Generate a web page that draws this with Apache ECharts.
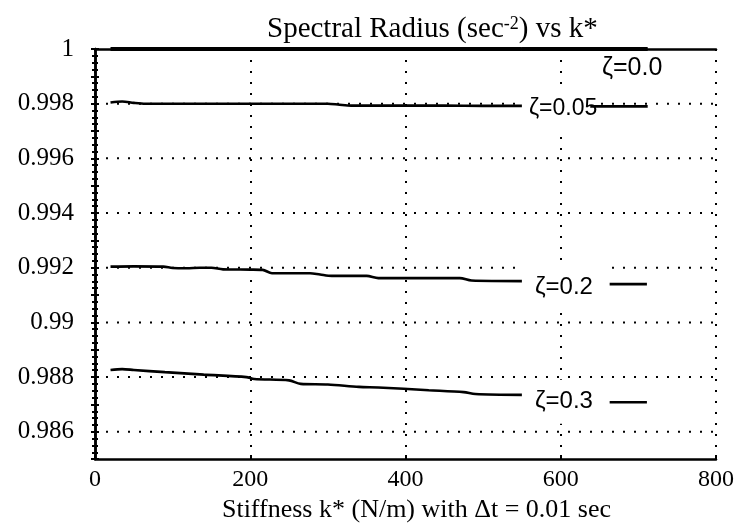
<!DOCTYPE html>
<html><head><meta charset="utf-8">
<script src="https://cdn.jsdelivr.net/npm/echarts@6/dist/echarts.min.js"></script>
<style>html,body{margin:0;padding:0;background:#fff}#c{width:737px;height:528px}</style>
</head><body><div id="c"></div>
<script>
// ---- data ----
const titleText = 'Spectral Radius (sec{sup|-2}) vs k*';
const xName = 'Stiffness k* (N/m) with Δt = 0.01 sec';
const xTicks = [0, 200, 400, 600, 800];
const yGridValues = [0.986, 0.988, 0.99, 0.992, 0.994, 0.996, 0.998];
const names = ['ζ=0.0', 'ζ=0.05', 'ζ=0.2', 'ζ=0.3'];

const k00 = [20, 550];
const v00 = [1.0, 1.0];

const k05 = [20, 35, 50, 65, 100, 150, 200, 250, 300, 315, 330, 400, 450, 500, 550];
const v05 = [0.99804, 0.99808, 0.99803, 0.998, 0.998, 0.998, 0.998, 0.998, 0.998, 0.99796, 0.99793, 0.99793, 0.99793, 0.99792, 0.99792];

const k20 = [20, 50, 88, 100, 118, 135, 150, 165, 200, 216, 228, 277, 290, 305, 350, 365, 470, 485, 550];
const v20 = [0.99204, 0.99205, 0.99204, 0.99199, 0.99198, 0.992, 0.992, 0.99194, 0.99193, 0.99192, 0.9918, 0.9918, 0.99175, 0.9917, 0.9917, 0.99162, 0.99162, 0.99153, 0.99151];

const k30 = [20, 35, 50, 90, 140, 195, 205, 250, 265, 300, 340, 365, 430, 475, 490, 550];
const v30 = [0.98826, 0.98829, 0.98826, 0.98818, 0.98809, 0.988, 0.98793, 0.98788, 0.98775, 0.98773, 0.98764, 0.98762, 0.98752, 0.98745, 0.98738, 0.98735];

const keyK = [[550, 712], [638, 712], [663, 711], [663, 711]];
const keyV = [1.0, 0.9979, 0.9914, 0.98708];

// ---- build ----
const zip = (a, b) => a.map((x, i) => [x, b[i]]);
const curves = [zip(k00, v00), zip(k05, v05), zip(k20, v20), zip(k30, v30)];

const serif = 'Liberation Serif';
const sans = 'Liberation Sans';
const gridStyle = {type: [2, 9], width: 2, color: '#000'};

const series = [];
yGridValues.forEach(v => {
  series.push({
    type: 'line', data: [[xTicks[0], v], [xTicks[xTicks.length - 1], v]],
    showSymbol: false, z: 1, silent: true, lineStyle: gridStyle
  });
});
const labelCfg = [
  {fontSize: 25, offset: [80, 19]},
  {fontSize: 23, backgroundColor: '#fff', padding: [10, 2, 10, 7], offset: [0, 3]},
  {fontSize: 24, backgroundColor: '#fff', padding: [12, 14, 12, 13], offset: [0, 6]},
  {fontSize: 24, backgroundColor: '#fff', padding: [6, 14, 14, 13], offset: [0, 7]}
];
curves.forEach((d, i) => {
  series.push({
    type: 'line', name: names[i], data: d, showSymbol: false, smooth: 0.3, z: 3,
    clip: i !== 0, lineStyle: {color: '#000', width: i === 0 ? 4 : 2.6}, silent: true,
    endLabel: Object.assign({show: true, formatter: names[i], fontFamily: sans, color: '#000', distance: 0}, labelCfg[i])
  });
  series.push({
    type: 'line', data: keyK[i].map(kk => [kk, keyV[i]]), showSymbol: false, z: 4,
    clip: i !== 0, lineStyle: {color: '#000', width: i === 0 ? 4 : 2.6}, silent: true
  });
});

const axisLine = {show: true, lineStyle: {color: '#000', width: 2.5}};
const tickStyle = {width: 2, color: '#000'};
const chart = echarts.init(document.getElementById('c'), null, {renderer: 'canvas'});
chart.setOption({
  animation: false,
  backgroundColor: '#fff',
  title: {
    text: titleText, left: 262, top: 10,
    textStyle: {fontFamily: serif, fontSize: 29, fontWeight: 'normal', color: '#000',
      rich: {sup: {fontFamily: serif, fontSize: 18, verticalAlign: 'top', padding: [0, 0, 11, 0]}}}
  },
  grid: {left: 95, right: 17, top: 49, bottom: 61, containLabel: false},
  xAxis: [{
    type: 'value', min: xTicks[0], max: xTicks[xTicks.length - 1], interval: 200, position: 'bottom',
    axisLine: axisLine,
    axisTick: {show: true, inside: true, length: 4, lineStyle: tickStyle},
    axisLabel: {color: '#000', fontFamily: serif, fontSize: 24, margin: 9},
    splitLine: {show: true, lineStyle: gridStyle},
    name: xName, nameLocation: 'middle', nameGap: 26,
    nameTextStyle: {fontFamily: serif, fontSize: 26, color: '#000', padding: [0, 0, 0, 22]}
  }, {
    type: 'value', min: 0, max: 800, interval: 200, position: 'top',
    axisLine: axisLine, axisTick: {show: false}, axisLabel: {show: false}, splitLine: {show: false}
  }],
  yAxis: [{
    type: 'value', min: 0.985, max: 1.0, interval: 0.001, position: 'left',
    axisLine: axisLine,
    axisTick: {show: true, inside: false, length: 4, lineStyle: tickStyle},
    minorTick: {show: true, splitNumber: 4, length: 3, lineStyle: tickStyle},
    axisLabel: {color: '#000', fontFamily: serif, fontSize: 25, margin: 21,
      formatter: v => { const n = Math.round(v * 1000); return n % 2 ? '' : String(n / 1000); }},
    splitLine: {show: false}
  }, {
    type: 'value', min: 0.985, max: 1.0, interval: 0.001, position: 'right',
    axisLine: axisLine,
    axisTick: {show: true, inside: false, length: 4, lineStyle: tickStyle},
    minorTick: {show: true, splitNumber: 4, length: 3, lineStyle: tickStyle},
    axisLabel: {show: false}, splitLine: {show: false}
  }],
  series: series
});
</script></body></html>
